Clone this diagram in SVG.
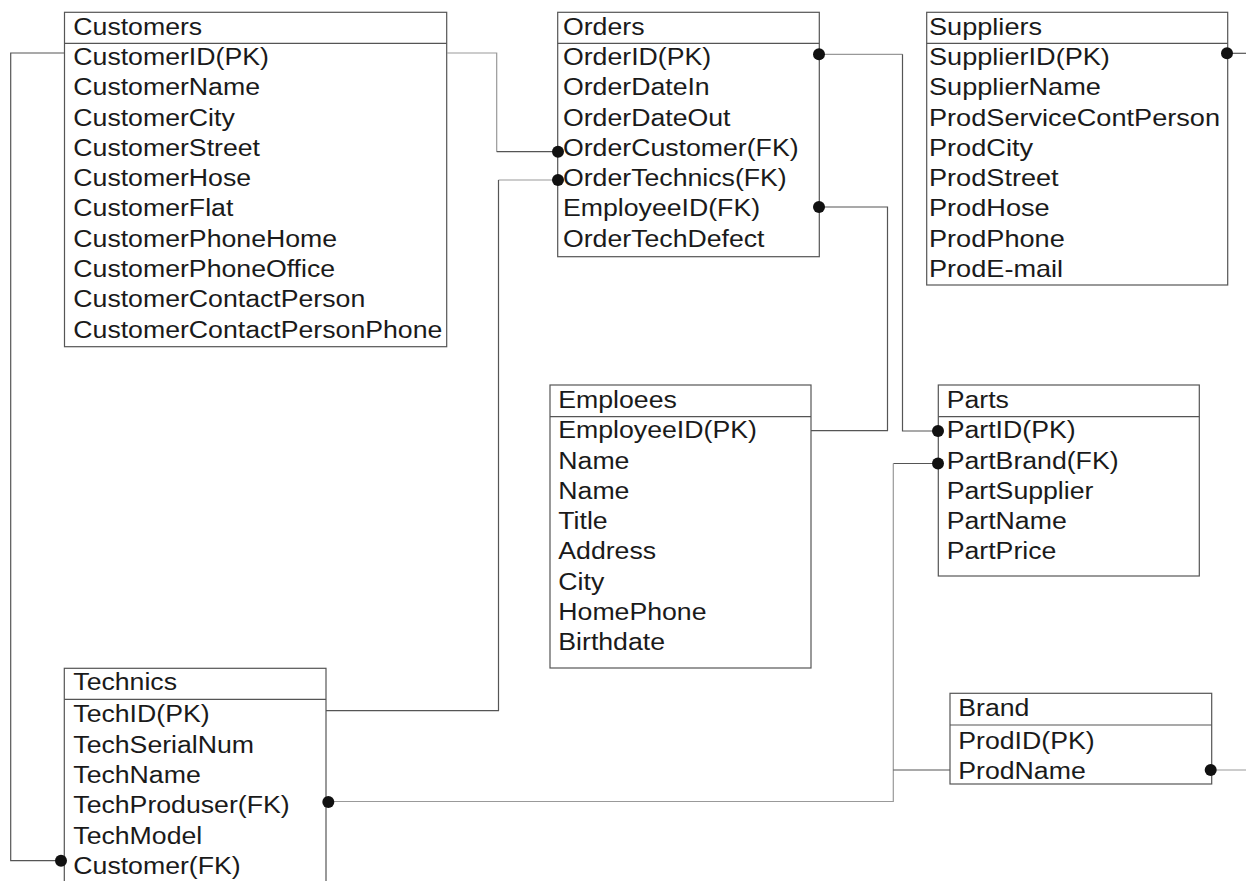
<svg xmlns="http://www.w3.org/2000/svg" width="1246" height="881" viewBox="0 0 1246 881">
<style>
.box{fill:#fff;stroke:#555;stroke-width:1.2}
.sep{stroke:#555;stroke-width:1.2}
.t{font-family:"Liberation Sans",Arial,sans-serif;font-size:23px;fill:#1a1a1a}
.c{fill:none;stroke:#555;stroke-width:1.2}
.cl{fill:none;stroke:#999;stroke-width:1.2}
.dot{fill:#111}
</style>
<rect width="1246" height="881" fill="#fff"/>
<g id="customers">
  <rect class="box" x="64.5" y="12.3" width="382.2" height="334.4"/>
  <line class="sep" x1="64.5" y1="43.3" x2="446.7" y2="43.3"/>
  <g transform="translate(73.3,0) scale(1.16,1)">
    <text class="t" y="35">Customers</text>
    <text class="t" y="65">CustomerID(PK)</text>
    <text class="t" y="95.3">CustomerName</text>
    <text class="t" y="125.6">CustomerCity</text>
    <text class="t" y="155.9">CustomerStreet</text>
    <text class="t" y="186.2">CustomerHose</text>
    <text class="t" y="216.5">CustomerFlat</text>
    <text class="t" y="246.8">CustomerPhoneHome</text>
    <text class="t" y="277.1">CustomerPhoneOffice</text>
    <text class="t" y="307.4">CustomerContactPerson</text>
    <text class="t" y="337.7">CustomerContactPersonPhone</text>
  </g>
</g>
<g id="orders">
  <rect class="box" x="557.7" y="12.3" width="261.6" height="244.4"/>
  <line class="sep" x1="557.7" y1="43.3" x2="819.3" y2="43.3"/>
  <g transform="translate(563,0) scale(1.16,1)">
    <text class="t" y="35">Orders</text>
    <text class="t" y="65">OrderID(PK)</text>
    <text class="t" y="95.3">OrderDateIn</text>
    <text class="t" y="125.6">OrderDateOut</text>
    <text class="t" y="155.9">OrderCustomer(FK)</text>
    <text class="t" y="186.2">OrderTechnics(FK)</text>
    <text class="t" y="216.5">EmployeeID(FK)</text>
    <text class="t" y="246.8">OrderTechDefect</text>
  </g>
</g>
<g id="suppliers">
  <rect class="box" x="926.7" y="12.3" width="301" height="272.7"/>
  <line class="sep" x1="926.7" y1="43.3" x2="1227.7" y2="43.3"/>
  <g transform="translate(929,0) scale(1.18,1)">
    <text class="t" y="35">Suppliers</text>
    <text class="t" y="65">SupplierID(PK)</text>
    <text class="t" y="95.3">SupplierName</text>
    <text class="t" y="125.6">ProdServiceContPerson</text>
    <text class="t" y="155.9">ProdCity</text>
    <text class="t" y="186.2">ProdStreet</text>
    <text class="t" y="216.5">ProdHose</text>
    <text class="t" y="246.8">ProdPhone</text>
    <text class="t" y="277.1">ProdE-mail</text>
  </g>
</g>
<g id="employees">
  <rect class="box" x="550" y="385" width="261" height="283"/>
  <line class="sep" x1="550" y1="416.7" x2="811" y2="416.7"/>
  <g transform="translate(558.3,0) scale(1.16,1)">
    <text class="t" y="408">Emploees</text>
    <text class="t" y="438.3">EmployeeID(PK)</text>
    <text class="t" y="468.6">Name</text>
    <text class="t" y="498.9">Name</text>
    <text class="t" y="529.2">Title</text>
    <text class="t" y="559.5">Address</text>
    <text class="t" y="589.8">City</text>
    <text class="t" y="620.1">HomePhone</text>
    <text class="t" y="650.4">Birthdate</text>
  </g>
</g>
<g id="parts">
  <rect class="box" x="938.3" y="385" width="261" height="191"/>
  <line class="sep" x1="938.3" y1="416.7" x2="1199.3" y2="416.7"/>
  <g transform="translate(946.7,0) scale(1.16,1)">
    <text class="t" y="408">Parts</text>
    <text class="t" y="438.3">PartID(PK)</text>
    <text class="t" y="468.6">PartBrand(FK)</text>
    <text class="t" y="498.9">PartSupplier</text>
    <text class="t" y="529.2">PartName</text>
    <text class="t" y="559.5">PartPrice</text>
  </g>
</g>
<g id="brand">
  <rect class="box" x="950" y="693.3" width="261.7" height="90.7"/>
  <line class="sep" x1="950" y1="725" x2="1211.7" y2="725"/>
  <g transform="translate(958.3,0) scale(1.16,1)">
    <text class="t" y="716.5">Brand</text>
    <text class="t" y="749.5">ProdID(PK)</text>
    <text class="t" y="779.5">ProdName</text>
  </g>
</g>
<g id="technics">
  <rect class="box" x="64.3" y="668.3" width="261.7" height="230"/>
  <line class="sep" x1="64.3" y1="699.3" x2="326" y2="699.3"/>
  <g transform="translate(73.3,0) scale(1.16,1)">
    <text class="t" y="690.5">Technics</text>
    <text class="t" y="722.5">TechID(PK)</text>
    <text class="t" y="752.8">TechSerialNum</text>
    <text class="t" y="783.1">TechName</text>
    <text class="t" y="813.4">TechProduser(FK)</text>
    <text class="t" y="843.7">TechModel</text>
    <text class="t" y="874">Customer(FK)</text>
  </g>
</g>
<g id="connectors">
  <path class="c" d="M64.5,53 H10.7 V860.7 H61"/>
  <circle class="dot" cx="61" cy="860.7" r="6"/>
  <path class="cl" d="M447,53 H496.7 V151.7"/>
  <path class="c" d="M496.7,151.7 H558"/>
  <circle class="dot" cx="558" cy="151.7" r="6"/>
  <path class="cl" d="M558,180 H498.5"/>
  <path class="c" d="M498.5,180 V710.7 H326"/>
  <circle class="dot" cx="558" cy="180" r="6"/>
  <path class="cl" d="M819,54.3 H902.5"/>
  <path class="c" d="M902.5,54.3 V431 H938"/>
  <circle class="dot" cx="819" cy="54.3" r="6"/>
  <circle class="dot" cx="938" cy="431" r="6"/>
  <path class="c" d="M819,207 H887.5 V430.7 H811"/>
  <circle class="dot" cx="819" cy="207" r="6"/>
  <path class="c" d="M938,463.5 H893.3"/>
  <path class="cl" d="M893.3,463.5 V801.5 H328"/>
  <circle class="dot" cx="938" cy="463.5" r="6"/>
  <circle class="dot" cx="328.3" cy="802" r="6"/>
  <path class="c" d="M950,770 H893.3"/>
  <path class="cl" d="M1210.7,770 H1246"/>
  <circle class="dot" cx="1210.7" cy="770" r="6"/>
  <path class="c" d="M1227,53.3 H1246"/>
  <circle class="dot" cx="1227" cy="53.3" r="6"/>
</g>
</svg>
